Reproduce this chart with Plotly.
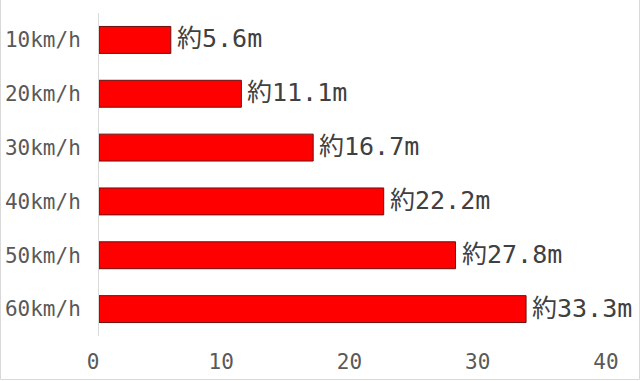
import plotly.graph_objects as go

categories = ["10km/h", "20km/h", "30km/h", "40km/h", "50km/h", "60km/h"]
distances = [5.6, 11.1, 16.7, 22.2, 27.8, 33.3]
labels = ["約5.6m", "約11.1m", "約16.7m", "約22.2m", "約27.8m", "約33.3m"]
x_ticks = [0, 10, 20, 30, 40]

W, H = 640, 381
L, R, T, B = 99, 612, 13, 336

fig = go.Figure(go.Bar(
    x=distances, y=categories, orientation="h",
    marker=dict(color="#ff0000", line=dict(color="#6b1010", width=1)),
    cliponaxis=False, hoverinfo="skip",
))

for cat, val, lab in zip(categories, distances, labels):
    fig.add_annotation(
        x=val, y=cat, text=lab, showarrow=False, xanchor="left", yanchor="middle",
        xshift=4, yshift=1,
        font=dict(family="DejaVu Sans Mono, Noto Sans CJK JP", size=25, color="#404040"),
    )

fig.update_layout(
    width=W, height=H,
    margin=dict(l=L, r=W - R, t=T, b=H - B, pad=0, autoexpand=False),
    paper_bgcolor="white", plot_bgcolor="white",
    bargap=0.5, showlegend=False,
)
fig.update_xaxes(
    range=[0, 40], tickvals=x_ticks, showgrid=False, zeroline=False,
    showline=False, ticks="", ticklabelshift=-6, ticklabelstandoff=11,
    automargin=False,
    tickfont=dict(family="DejaVu Sans Mono", size=21, color="#595959"),
)
fig.update_yaxes(
    autorange="reversed", showgrid=False, zeroline=False,
    showline=True, linecolor="#d9d9d9", linewidth=1, ticks="",
    ticklabelstandoff=13, automargin=False,
    tickfont=dict(family="DejaVu Sans Mono", size=21, color="#595959"),
)

# light gray frame around the picture
fig.add_shape(type="rect", xref="paper", yref="paper",
              x0=(0.5 - L) / (R - L), x1=(639.5 - L) / (R - L),
              y0=(B - 379.5) / (B - T), y1=(B + 5) / (B - T),
              line=dict(color="#d9d9d9", width=1), fillcolor="rgba(0,0,0,0)", layer="below")

fig.write_html("out.html", config={"displayModeBar": False},
               post_script="document.body.style.margin='0';document.body.style.overflow='hidden';")
